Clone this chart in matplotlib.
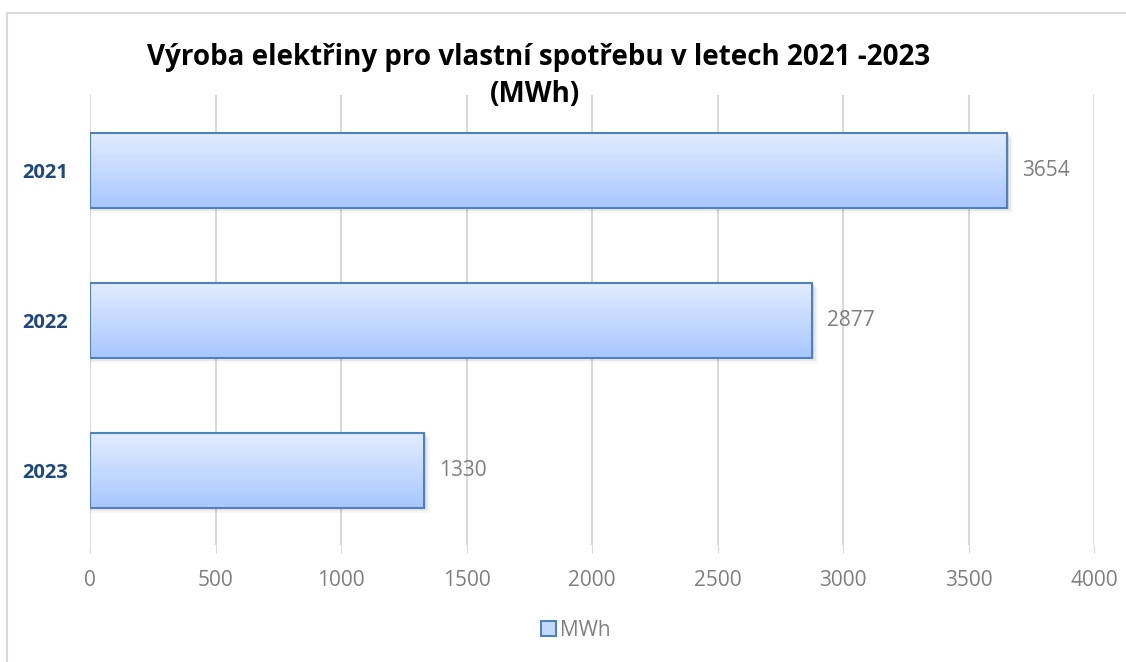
import numpy as np
import matplotlib.pyplot as plt
from matplotlib.patches import Rectangle, Patch
from matplotlib.lines import Line2D
from matplotlib.colors import LinearSegmentedColormap

years = ["2021", "2022", "2023"]
mwh = [3654, 2877, 1330]
x_ticks = [0, 500, 1000, 1500, 2000, 2500, 3000, 3500, 4000]

W, H = 1126, 662
fig = plt.figure(figsize=(W / 100, H / 100), dpi=100)
fig.patch.set_facecolor("white")

# chart frame: only left and top edges are visible
fx, fy = 7.5 / W, 1 - 12.5 / H
fig.add_artist(Line2D([fx, fx], [0, fy], transform=fig.transFigure,
                      color="#d9d9d9", linewidth=1.5))
fig.add_artist(Line2D([fx, 1.01], [fy, fy], transform=fig.transFigure,
                      color="#d9d9d9", linewidth=1.5))

ax = fig.add_axes([90 / W, (H - 545) / H, (1094 - 90) / W, 450 / H])

grad = LinearSegmentedColormap.from_list("g", ["#e2ecff", "#a8c7ff"])
g = np.linspace(0, 1, 256).reshape(-1, 1)
bh = 0.5
for i, v in enumerate(mwh):
    # soft shadow
    for k, a in enumerate([0.10, 0.06, 0.03]):
        off = 0.012 * (k + 1)
        ax.add_patch(Rectangle((0, i - bh / 2 + off), v + 8 * (k + 1), bh,
                               facecolor="black", alpha=a, edgecolor="none", zorder=2))
    ax.imshow(g, extent=(0, v, i + bh / 2, i - bh / 2), cmap=grad,
              aspect="auto", zorder=3, interpolation="bilinear")
    ax.add_patch(Rectangle((0, i - bh / 2), v, bh, fill=False,
                           edgecolor="#4f81bd", linewidth=1.5, zorder=4))
    ax.text(v + 60, i, str(v), va="center", ha="left", fontsize=15,
            color="#7f7f7f", family="Open Sans")

ax.set_xlim(0, 4000)
ax.set_ylim(len(years) - 0.5, -0.5)
ax.set_xticks(x_ticks)
ax.set_xticklabels([str(t) for t in x_ticks], fontsize=15, color="#7f7f7f",
                   family="Open Sans")
ax.set_yticks(range(len(years)))
ax.set_yticklabels(years, fontsize=14.5, color="#1f497d", fontweight="bold",
                   family="Open Sans")
ax.tick_params(axis="x", length=6, color="#d9d9d9", pad=12)
ax.tick_params(axis="y", length=0, pad=16)
ax.grid(axis="x", color="#d9d9d9", linewidth=1.5, zorder=0)
ax.set_axisbelow(True)
for s in ax.spines.values():
    s.set_visible(False)

fig.text(539 / W, 1 - 57 / H, "Výroba elektřiny pro vlastní spotřebu v letech 2021 -2023",
         ha="center", va="center", fontsize=20, fontweight="bold",
         family="Open Sans", color="black")
fig.text(535 / W, 1 - 94 / H, "(MWh)", ha="center", va="center", fontsize=20,
         fontweight="bold", family="Open Sans", color="black")

handle = Patch(facecolor="#c5d9ff", edgecolor="#4f81bd", linewidth=1.5)
fig.legend([handle], ["MWh"], loc="center", bbox_to_anchor=(576 / W, 1 - 630 / H),
           frameon=False, prop={"family": "Open Sans", "size": 15},
           labelcolor="#7f7f7f", handlelength=0.7, handleheight=0.7,
           handletextpad=0.2)

fig.savefig("out.png", dpi=100)
